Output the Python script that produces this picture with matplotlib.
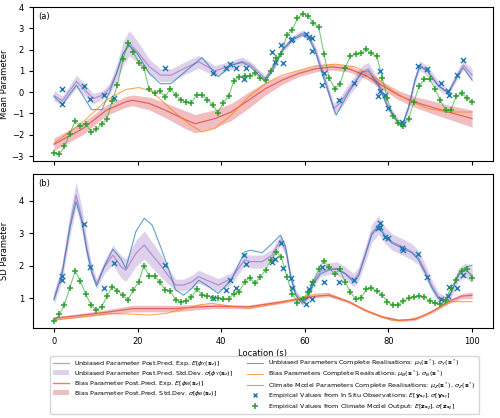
import matplotlib
matplotlib.use("Agg")
import matplotlib.pyplot as plt
import numpy as np
from matplotlib.lines import Line2D
from matplotlib.patches import Patch

plt.rcParams.update({"font.family": "DejaVu Sans", "font.size": 6, "mathtext.fontset": "dejavusans"})

# ---------------- panel (a): mean parameter ----------------
a_post_x = [0, 2, 5.4, 9.4, 11.5, 13.3, 15, 16.5, 18, 20, 22.8, 25.5, 28, 31, 34.6, 38.5, 42.4, 45, 47,
            50.5, 52.5, 54.6, 57, 59.4, 61, 62.5, 64.9, 66.9, 68.5, 70.5, 73.7, 75.2, 77.6, 80, 82.4,
            83.3, 84.8, 86.3, 87.5, 89.5, 91.9, 94.3, 96.7, 97.9, 100]
a_unb_mean = [-0.15, -0.4, 0.5, -0.3, -0.15, 0.17, 0.9, 1.8, 2.3, 1.9, 1.2, 0.8, 0.8, 1.1, 1.43, 1.0, 1.27,
              1.45, 1.3, 0.64, 1.2, 2.0, 2.5, 2.77, 2.6, 2.0, 0.57, -0.77, -0.5, 0.1, 0.96, 1.1, 0.4, -0.7,
              -1.4, -1.55, -0.7, 0.57, 1.27, 0.96, 0.33, 0.0, 0.9, 1.27, 0.8]
a_unb_sd = [0.25, 0.2, 0.3, 0.25, 0.2, 0.25, 0.4, 0.55, 0.6, 0.5, 0.35, 0.3, 0.3, 0.3, 0.3, 0.25, 0.2, 0.2,
            0.15, 0.15, 0.2, 0.15, 0.15, 0.15, 0.15, 0.2, 0.2, 0.25, 0.3, 0.3, 0.3, 0.3, 0.2, 0.15, 0.15,
            0.15, 0.2, 0.2, 0.2, 0.25, 0.2, 0.15, 0.2, 0.2, 0.3]

a_true_unb_x = [0, 2, 5.4, 9, 11.5, 13.3, 15, 16.5, 18, 20, 22.8, 25.5, 28, 31, 35.4, 39.3, 42.4, 45, 47,
                50.5, 52.5, 54.6, 57, 59.4, 61, 62.5, 64.9, 67.5, 70.5, 73.7, 75.2, 77.6, 80, 82.4, 83.3,
                84.8, 86.3, 87.5, 89.5, 91.9, 94.3, 96.7, 97.9, 100]
a_true_unb = [-0.2, -0.57, 0.33, -0.82, -0.82, 0.0, 0.9, 1.8, 2.2, 1.8, 0.88, 0.4, 0.4, 0.9, 1.63, 0.72,
              1.27, 1.4, 1.2, 0.49, 1.1, 1.95, 2.45, 2.7, 2.5, 1.9, 0.4, -1.08, 0.0, 0.95, 1.0, 0.3, -0.8,
              -1.45, -1.55, -0.75, 0.5, 1.25, 0.95, 0.3, -0.05, 0.8, 1.15, 0.57]

a_bias_x = [0, 7, 12.5, 17.2, 18.8, 22.8, 26.7, 31.4, 33.8, 38.5, 42.4, 46.5, 50.6, 54.6, 58.5, 62.5,
            66.5, 70.5, 74.4, 78.4, 82.4, 86.3, 90.3, 94.3, 100]
a_bias_mean = [-2.45, -1.7, -0.85, -0.45, -0.38, -0.53, -0.85, -1.29, -1.48, -1.24, -0.93, -0.38, 0.17,
               0.57, 0.88, 1.1, 1.19, 1.1, 0.8, 0.33, -0.14, -0.46, -0.7, -0.93, -1.24]
a_bias_sd = [0.3, 0.28, 0.25, 0.25, 0.25, 0.3, 0.35, 0.42, 0.43, 0.42, 0.4, 0.38, 0.3, 0.2, 0.15, 0.15,
             0.15, 0.15, 0.15, 0.18, 0.22, 0.25, 0.3, 0.33, 0.4]

a_true_bias_x = [0, 7, 12.5, 17.2, 20.4, 23.5, 28.3, 32.2, 35.4, 38.5, 42.4, 46.5, 50.6, 54.6, 62.5,
                 67.3, 72.1, 76.8, 80.8, 84.8, 89.5, 94.3, 100]
a_true_bias = [-2.4, -1.4, -0.38, 0.13, 0.22, 0.02, -0.85, -1.48, -1.87, -1.7, -1.08, -0.22, 0.41, 0.8,
               1.24, 1.32, 1.19, 0.72, 0.09, -0.38, -0.77, -0.93, -0.93]

# ---------------- panel (b): SD parameter ----------------
b_post_x = [0, 1.9, 3.9, 5.3, 6.6, 7.8, 9, 10.2, 12.1, 14.1, 16.1, 17.2, 19.6, 21.6, 23.5, 25.5, 27.5,
            29.1, 31, 33, 34.6, 36.5, 39.3, 42.4, 45.6, 47, 49.8, 52.2, 54.2, 55.4, 56.6, 57.8, 59.4,
            60.6, 62.1, 63.7, 65.7, 67.7, 69.7, 71.7, 72.9, 74.4, 76, 77.6, 79.2, 80.8, 82.4, 84, 85.6,
            87.1, 88.7, 90.3, 91.9, 93.5, 95.1, 96.7, 98.3, 100]
b_unb_mean = [1.0, 1.77, 3.3, 4.17, 3.5, 2.59, 1.87, 1.45, 1.97, 2.33, 1.97, 1.87, 2.38, 2.64, 2.33, 2.02,
              1.67, 1.41, 1.41, 1.51, 1.67, 1.56, 1.41, 1.61, 2.18, 2.13, 2.13, 2.33, 2.79, 2.48, 1.67,
              1.15, 0.9, 1.05, 1.51, 1.82, 1.92, 1.92, 1.77, 1.56, 1.77, 2.33, 3.0, 3.25, 2.94, 2.74,
              2.64, 2.54, 2.43, 2.26, 1.87, 1.41, 1.05, 0.95, 1.2, 1.72, 1.87, 1.72]
b_unb_sd = [0.2, 0.25, 0.35, 0.4, 0.35, 0.3, 0.2, 0.15, 0.2, 0.3, 0.35, 0.35, 0.4, 0.43, 0.4, 0.35, 0.25,
            0.18, 0.18, 0.2, 0.2, 0.2, 0.2, 0.18, 0.18, 0.2, 0.2, 0.18, 0.15, 0.15, 0.15, 0.12, 0.12,
            0.12, 0.15, 0.15, 0.18, 0.2, 0.2, 0.2, 0.22, 0.25, 0.28, 0.28, 0.25, 0.25, 0.25, 0.25, 0.25,
            0.22, 0.2, 0.18, 0.15, 0.12, 0.15, 0.2, 0.22, 0.25]
b_true_unb = [0.95, 1.7, 3.2, 3.97, 3.4, 2.5, 1.8, 1.38, 2.0, 2.51, 2.2, 1.92, 3.05, 3.46, 3.25, 2.59,
              1.87, 1.26, 1.1, 1.31, 1.56, 1.41, 1.15, 1.56, 2.43, 2.48, 2.4, 2.69, 2.94, 2.6, 1.7, 1.1,
              0.85, 1.0, 1.45, 1.75, 1.87, 1.9, 1.75, 1.5, 1.7, 2.3, 2.95, 3.2, 2.9, 2.7, 2.6, 2.5, 2.4,
              2.2, 1.8, 1.35, 1.0, 0.9, 1.2, 1.75, 1.95, 2.02]

b_bias_x = [0, 7, 13.3, 18.8, 22.8, 29, 34.6, 38.5, 46.5, 54.6, 62.5, 65.7, 70.5, 74.4, 78.4, 82.4,
            86.3, 90.3, 94.3, 97.5, 100]
b_bias_mean = [0.39, 0.49, 0.59, 0.69, 0.69, 0.69, 0.74, 0.76, 0.74, 0.9, 1.07, 1.1, 0.9, 0.64, 0.44,
               0.33, 0.36, 0.59, 0.9, 1.07, 1.1]
b_bias_sd = [0.05, 0.06, 0.08, 0.1, 0.1, 0.1, 0.08, 0.07, 0.06, 0.05, 0.05, 0.05, 0.04, 0.04, 0.04,
             0.04, 0.04, 0.05, 0.06, 0.08, 0.1]

b_true_bias_x = [0, 7, 13.3, 18.8, 22.8, 26.7, 31.4, 34.6, 37.7, 42.4, 46.5, 54.6, 62.5, 65.7, 70.5,
                 74.4, 78.4, 80.8, 84, 87.9, 91.9, 95.1, 100]
b_true_bias = [0.33, 0.44, 0.54, 0.52, 0.49, 0.54, 0.69, 0.8, 0.85, 0.76, 0.7, 0.87, 1.13, 1.15, 0.9,
               0.64, 0.44, 0.33, 0.33, 0.44, 0.69, 0.9, 0.9]

# ---------------- climate model output (+) ----------------
clim_x = [0, 1.3, 2.5, 3.8, 5.1, 6.3, 7.6, 8.9, 10.1, 11.4, 12.7, 13.9, 15.2, 16.5, 17.7, 19.0, 20.3,
          21.5, 22.8, 24.1, 25.3, 26.6, 27.8, 29.1, 30.4, 31.6, 32.9, 34.2, 35.4, 36.7, 38.0, 39.2, 40.5,
          41.8, 43.0, 44.3, 45.6, 46.8, 48.1, 49.4, 50.6, 51.9, 53.2, 54.4, 55.7, 57.0, 58.2, 59.5, 60.8,
          62.0, 63.3, 64.6, 65.8, 67.1, 68.4, 69.6, 70.9, 72.2, 73.4, 74.7, 75.9, 77.2, 78.5, 79.7, 81.0,
          82.3, 83.5, 84.8, 86.1, 87.3, 88.6, 89.9, 91.1, 92.4, 93.7, 94.9, 96.2, 97.5, 98.7, 100]
clim_mean = [-2.85, -2.9, -2.55, -1.95, -1.35, -1.6, -1.48, -1.87, -1.75, -1.48, -1.27, -0.42, 0.33, 1.54,
             2.3, 1.9, 1.38, 1.15, 0.13, -0.03, 0.06, -0.22, 0.17, -0.14, -0.35, -0.47, -0.49, -0.11,
             -0.11, -0.35, -0.61, -0.96, -0.49, -0.19, 0.53, 0.72, 0.75, 0.75, 0.88, 0.68, 0.57, 1.01,
             1.59, 1.78, 2.69, 2.92, 3.47, 3.68, 3.6, 3.24, 3.08, 1.78, 0.69, 0.17, 0.38, 1.12, 1.7, 1.78,
             1.82, 2.01, 1.82, 1.7, 0.69, -0.27, -1.12, -1.45, -1.6, -1.24, -0.46, 0.28, 0.6, 0.6, 0.17,
             -0.38, -0.85, -0.85, -0.19, -0.06, -0.25, -0.46]
clim_sd = [0.3, 0.51, 0.8, 1.33, 1.84, 1.54, 1.13, 0.8, 0.66, 0.74, 1.07, 1.36, 1.24, 1.1, 0.95, 1.26,
           1.51, 2.0, 1.69, 1.69, 1.51, 1.26, 1.24, 0.95, 0.9, 0.92, 1.03, 1.29, 1.12, 1.07, 1.02, 1.0,
           0.98, 0.98, 1.15, 1.2, 1.51, 1.64, 1.46, 1.67, 1.87, 2.18, 2.43, 2.26, 1.67, 1.15, 0.87, 0.97,
           1.2, 1.51, 1.89, 2.16, 1.95, 1.75, 1.89, 1.51, 1.2, 0.97, 1.0, 1.28, 1.31, 1.24, 1.1, 0.9, 0.8,
           0.8, 0.93, 1.0, 1.05, 1.07, 1.05, 0.92, 0.85, 0.82, 0.95, 1.31, 1.58, 1.84, 1.89, 1.64]

# ---------------- in situ observations (x) ----------------
obs_x = [1.9, 2.0, 7.2, 8.7, 11.9, 14.3, 26.5, 38.1, 41.1, 42.0, 43.5, 45.5, 46.0, 52.1, 52.9, 54.4,
         54.8, 56.7, 57.0, 60.2, 61.1, 61.6, 61.7, 64.0, 64.5, 68.1, 71.7, 77.5, 77.9, 78.0, 79.2, 79.8,
         83.2, 83.4, 87.0, 89.1, 92.5, 94.3, 94.5, 96.4, 97.9]
obs_mean = [0.13, -0.57, 0.3, -0.33, -0.14, -0.25, 1.12, 0.88, 1.15, 1.32, 1.12, 0.6, 1.12, 1.9, 1.4, 2.2,
            1.35, 2.45, 2.5, 2.72, 2.6, 1.96, 2.55, 0.33, 0.91, -0.38, 0.41, -0.19, 0.06, 0.99, -0.14,
            -0.74, -1.4, -1.48, 1.24, 1.08, 0.41, 0.06, -0.11, 0.8, 1.5]
obs_sd = [1.69, 1.58, 3.27, 1.95, 1.31, 2.1, 2.04, 1.0, 1.26, 1.56, 1.31, 2.33, 2.05, 2.13, 2.2, 2.71,
          1.92, 1.63, 1.31, 0.83, 1.28, 1.48, 0.97, 1.97, 1.49, 1.51, 1.56, 3.15, 3.2, 3.3, 2.89, 2.84,
          2.54, 2.5, 2.35, 1.67, 0.97, 1.07, 1.36, 1.33, 1.72]

fig = plt.figure(figsize=(5.0, 4.18), dpi=100)
ax_a = fig.add_axes([0.066, 0.615, 0.920, 0.368])
ax_b = fig.add_axes([0.066, 0.215, 0.920, 0.369])


def panel(ax, post_x, unb_m, unb_s, true_unb_x, true_unb, bias_x, bias_m, bias_s,
          true_bias_x, true_bias, clim_v, obs_v):
    um, us = np.array(unb_m), np.array(unb_s)
    bm, bs = np.array(bias_m), np.array(bias_s)
    ax.fill_between(post_x, um - us, um + us, color="tab:purple", alpha=0.3, lw=0)
    ax.plot(post_x, um, color="tab:purple", lw=0.9, alpha=0.6)
    ax.fill_between(bias_x, bm - bs, bm + bs, color="tab:red", alpha=0.3, lw=0)
    ax.plot(bias_x, bm, color="tab:red", lw=0.9, alpha=0.6)
    ax.plot(true_unb_x, true_unb, color="tab:blue", lw=0.8, alpha=0.7)
    ax.plot(true_bias_x, true_bias, color="tab:orange", lw=0.8, alpha=0.7)
    ax.plot(clim_x, clim_v, color="tab:green", lw=0.8, alpha=0.6)
    ax.scatter(obs_x, obs_v, marker="x", color="tab:blue", s=14, lw=1.0, zorder=5)
    ax.scatter(clim_x, clim_v, marker="+", color="tab:green", s=22, lw=1.1, zorder=5)
    ax.set_xlim(-5, 105)
    ax.set_xticks([0, 20, 40, 60, 80, 100])
    ax.tick_params(labelsize=6, length=3, width=0.8)


panel(ax_a, a_post_x, a_unb_mean, a_unb_sd, a_true_unb_x, a_true_unb, a_bias_x, a_bias_mean, a_bias_sd,
      a_true_bias_x, a_true_bias, clim_mean, obs_mean)
panel(ax_b, b_post_x, b_unb_mean, b_unb_sd, b_post_x, b_true_unb, b_bias_x, b_bias_mean,
      b_bias_sd, b_true_bias_x, b_true_bias, clim_sd, obs_sd)

ax_a.set_ylim(-3.23, 4.0)
ax_a.set_yticks([-3, -2, -1, 0, 1, 2, 3, 4])
ax_a.set_xticklabels([])
ax_a.set_ylabel("Mean Parameter", fontsize=6, labelpad=2)
ax_a.text(0.012, 0.965, "(a)", transform=ax_a.transAxes, ha="left", va="top", fontsize=6)

ax_b.set_ylim(0.09, 4.82)
ax_b.set_yticks([1, 2, 3, 4])
ax_b.set_ylabel("SD Parameter", fontsize=6, labelpad=7)
ax_b.set_xlabel("Location (s)", fontsize=6, labelpad=2)
ax_b.text(0.012, 0.965, "(b)", transform=ax_b.transAxes, ha="left", va="top", fontsize=6)

handles = [
    Line2D([], [], color="tab:purple", lw=1, alpha=0.6),
    Patch(facecolor="tab:purple", alpha=0.3, lw=0),
    Line2D([], [], color="tab:red", lw=1, alpha=0.6),
    Patch(facecolor="tab:red", alpha=0.3, lw=0),
    Line2D([], [], color="none"),
    Line2D([], [], color="tab:blue", lw=0.8, alpha=0.7),
    Line2D([], [], color="tab:orange", lw=0.8, alpha=0.7),
    Line2D([], [], color="tab:green", lw=0.8, alpha=0.6),
    Line2D([], [], color="tab:blue", marker="x", ls="none", ms=3.5, mew=1.0),
    Line2D([], [], color="tab:green", marker="+", ls="none", ms=4.5, mew=1.1),
]
labels = [
    r"Unbiased Parameter Post.Pred. Exp. $E[\phi_Y(\mathbf{s}_z)]$",
    r"Unbiased Parameter Post.Pred. Std.Dev. $\sigma[\phi_Y(\mathbf{s}_z)]$",
    r"Bias Parameter Post.Pred. Exp. $E[\phi_B(\mathbf{s}_z)]$",
    r"Bias Parameter Post.Pred. Std.Dev. $\sigma[\phi_B(\mathbf{s}_z)]$",
    " ",
    r"Unbiased Parameters Complete Realisations: $\mu_Y(\mathbf{s}^*)$, $\sigma_Y(\mathbf{s}^*)$",
    r"Bias Parameters Complete Realisations: $\mu_B(\mathbf{s}^*)$, $\sigma_B(\mathbf{s}^*)$",
    r"Climate Model Parameters Complete Realisations: $\mu_Z(\mathbf{s}^*)$, $\sigma_Z(\mathbf{s}^*)$",
    r"Empirical Values from In Situ Observations: $E[\mathbf{y}_{\mathbf{s}_Y}]$, $\sigma[\mathbf{y}_{\mathbf{s}_Y}]$",
    r"Empirical Values from Climate Model Output: $E[\mathbf{z}_{\mathbf{s}_Z}]$, $\sigma[\mathbf{z}_{\mathbf{s}_Z}]$",
]
fig.legend(handles, labels, ncol=2, loc="upper center", bbox_to_anchor=(0.529, 0.157),
           fontsize=4.6, frameon=True, handlelength=2.6, handletextpad=0.8, columnspacing=2.0,
           labelspacing=0.15, borderpad=0.35)

fig.savefig("out.png", dpi=100)
